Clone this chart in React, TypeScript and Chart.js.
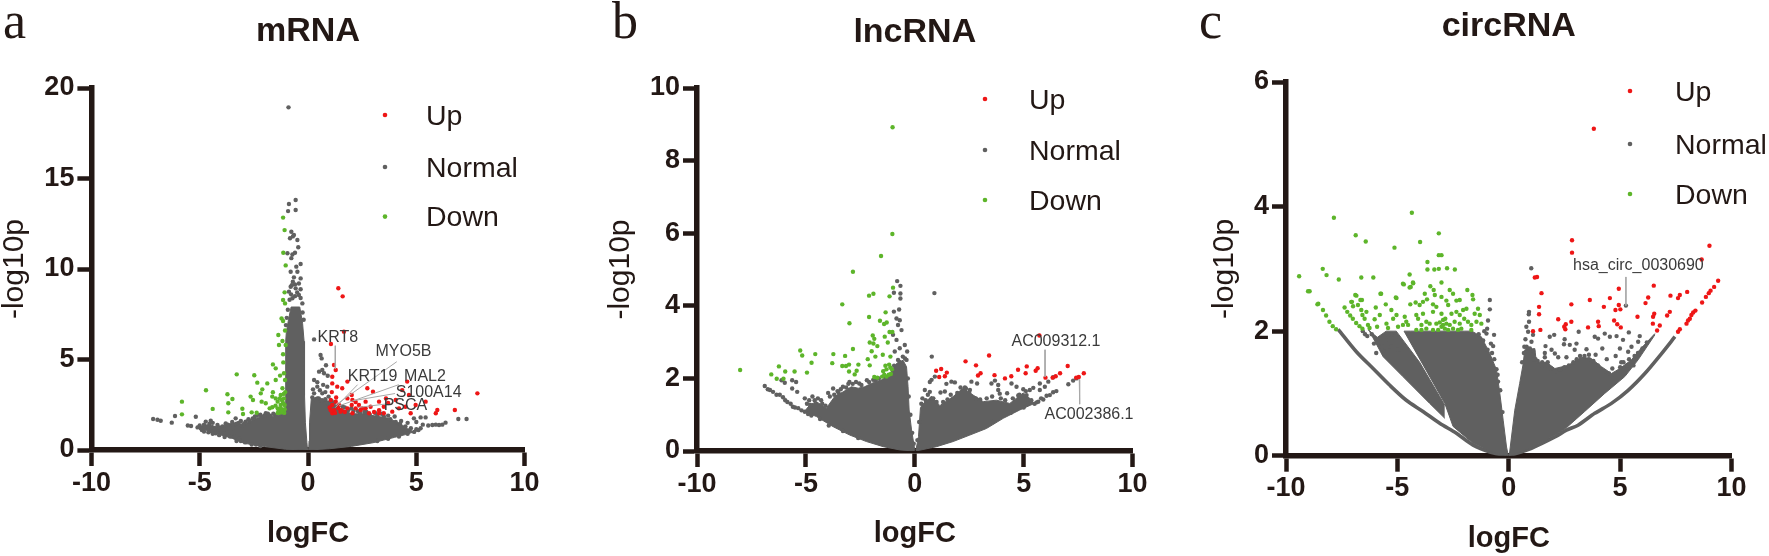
import React, { useEffect, useRef } from "react";
import { Chart } from "chart.js/auto";

type P = [number, number];

const seriesLabels = ["Up", "Normal", "Down"];
const xTicksStep = 5;

// ---------- mRNA ----------
const mrnaUp: P[] = [[1.4,8.94],[1.6,8.49],[1.66,6.54],[1.06,5.86],[1.2,4.7],[1.28,4.42],[1.12,4.05],[1.12,3.68],[1.82,3.78],[1.35,3.5],[1.58,3.41],[2.74,3.41],[3,3.22],[2.02,3.04],[1.05,2.76],[1.28,2.67],[1.12,2.49],[1.43,2.49],[2.02,2.49],[2.2,2.3],[2.43,2.21],[2.66,2.3],[2.89,2.39],[3.28,2.67],[3.6,2.85],[3.5,2.39],[3.28,2.2],[2.66,2.67],[1.12,2.03],[1.5,2.12],[1.82,2.3],[2.05,2.03],[2.82,2.03],[3.28,2.03],[3.5,2.03],[4.05,2.76],[4.35,3.31],[4.58,3.78],[4.66,3.04],[4.97,2.49],[5.43,2.67],[5.97,2.21],[5.9,2.03],[6.78,2.21],[7.82,3.13],[4.2,2.3],[4.5,2.39],[4.74,2.03],[3.89,2.12],[1.82,2.85],[2.05,2.76],[2.2,2.65],[2.35,2.49],[2.5,2.3],[1.2,2.2],[1,2.35],[1.3,2.9],[1.1,3.2],[1.55,2.2],[3.05,2.1],[3.7,2.6],[1.05,2.2],[1.25,2.05],[1.4,2.3],[1.7,2.1]];
const mrnaDown: P[] = [[-1.15,12.84],[-1.08,12.15],[-1.14,10.9],[-1.03,10.2],[-1.08,8.71],[-1.15,8.29],[-1.06,8.1],[-1.22,7.27],[-1.15,7.13],[-1.37,6.35],[-1.06,6.6],[-1.18,6.02],[-1.34,5.8],[-1.03,5.8],[-1.15,5.29],[-1.62,4.73],[-1.49,4.51],[-1.14,4.84],[-3.29,4.18],[-2.48,4.13],[-2.34,3.72],[-1.88,3.68],[-1.49,3.87],[-1.29,4.11],[-1.11,4.24],[-1.06,3.87],[-4.71,3.3],[-3.72,3.08],[-3.49,2.82],[-2.11,3.35],[-2.18,3.13],[-2.65,2.95],[-2.54,2.76],[-1.62,3.19],[-1.18,3.41],[-5.82,2.67],[-5.82,1.97],[-3.68,2.58],[-4.4,2.27],[-3.68,2.08],[-3.03,2.28],[-3,1.99],[-2.6,2.08],[-2.37,2.06],[-2.14,2.67],[-1.95,2.58],[-1.77,2.3],[-1.65,2.36],[-1.65,2.95],[-1.49,2.85],[-1.26,3.04],[-1.11,2.85],[-1.4,2.67],[-1.26,2.49],[-1.4,2.3],[-1.17,2.2],[-1.32,2.06],[-1.08,2.49],[-1.2,2.75],[-1.1,2.05],[-1.25,2.3],[-1.4,2.05],[-1.08,2.25],[-1.5,2.45],[-1.3,2.85],[-1.15,2.6],[-1.35,2.2],[-1.2,2.1],[-1.05,3.2],[-1.12,3.1]];
const mrnaNormal: P[] = [[-0.9,18.93],[-0.57,13.81],[-0.88,13.59],[-0.92,13.2],[-0.57,13.26],[-0.77,12.06],[-0.65,11.88],[-0.83,11.7],[-0.7,11.8],[-0.49,11.6],[-0.45,11.2],[-0.6,10.9],[-0.72,10.8],[-0.77,10.6],[-0.95,10.87],[-0.34,10.28],[-0.54,10.13],[-0.8,9.85],[-0.49,9.85],[-0.65,9.54],[-0.34,9.48],[-0.42,9.2],[-0.8,9.02],[-0.57,8.93],[-0.34,8.88],[-0.88,8.75],[-0.42,8.56],[-0.72,8.38],[-0.34,8.4],[-0.85,8.3],[-0.26,8.1],[-0.6,8.5],[-0.78,8.6],[-0.5,8.7],[-0.7,9.3],[-0.6,9.15],[-0.75,9.1],[-0.93,7.75],[-0.98,7.3],[-1.02,6.9],[-0.25,7.6],[-0.2,7.2],[0.28,6.11],[0.58,5.25],[0.63,5.06],[0.83,4.68],[0.66,4.42],[0.51,4.33],[0.74,4.24],[0.91,4.1],[0.28,3.87],[0.43,3.75],[0.23,3.35],[0.43,3.5],[0.89,3.5],[0.66,3.13],[0.28,3.13],[0.43,2.85],[0.54,2.76],[0.8,3.2],[0.95,2.95],[0.7,3.6],[0.55,3.3],[-7.15,1.71],[-6.95,1.67],[-6.8,1.62],[-6.14,1.88],[-6.29,1.51],[-5.55,1.35],[-5.4,1.33],[-5.18,1.84],[-5.1,1.25],[-4.95,1.2],[-4.8,1.4],[-4.72,1.57],[-4.55,1.45],[-4.49,1.62],[-4.3,1.2],[-4.18,1.38],[-4.05,1.1],[-3.95,1.3],[-3.8,1.47],[-3.6,1.25],[-3.45,1.2],[-3.34,1.75],[-3.2,1.5],[-3.05,1.35],[-2.88,1.57],[-2.7,1.6],[-2.34,1.93],[-2.15,1.85],[-1.95,2.03],[-1.75,1.9],[-1.49,1.92],[-3.75,0.95],[-3.4,0.72],[-3.6,0.75],[-3.1,0.5],[-4.5,1.05],[-4.26,0.92],[4.89,1.75],[5.2,1.8],[5.43,1.8],[5.74,1.38],[6.05,1.38],[6.35,1.51],[6.94,1.71],[7.32,1.71],[5,1.55],[5.3,1.4],[5.55,1.35],[5.9,1.4],[6.2,1.4],[4.6,1.5],[4.3,1.6],[4,1.85],[3.7,1.9],[3.4,2],[3.1,2.05],[2.7,2.1],[2.3,2.15],[2,2.3],[1.7,2.35],[1.4,2.45],[1.1,2.7],[4.4,1.2],[4.75,1.2],[5,1.15],[5.2,1.2]];
const mrnaEdge: P[] = [[-5,1.35],[-4.9,1.1],[-4.65,1.3],[-4.4,1.5],[-4.1,1.25],[-3.9,1.15],[-3.7,1.4],[-3.5,1.55],[-3.3,1.45],[-3.1,1.6],[-2.95,1.45],[-2.75,1.7],[-2.55,1.75],[-2.45,1.85],[-2.2,1.95],[-2,1.9],[-1.85,2],[-1.6,2],[-1.3,2],[-4.8,1.02],[-4.6,0.98],[-4.4,0.9],[-4.1,0.82],[-3.85,0.72],[-3.3,0.5],[-3.2,0.62],[-2.9,0.42],[-2.6,0.3],[-2.4,0.3],[-2.2,0.22],[3.2,0.5],[3.7,0.62],[4.2,0.75],[4.6,0.9],[4.9,1],[5.1,1.1],[1.2,2.6],[1.35,2.35],[1.6,2.4],[1.85,2.2],[2.1,2.15],[2.4,2.05],[2.6,2.1],[2.85,1.95],[3.2,1.9],[3.5,1.85],[3.8,1.7],[4.05,1.55],[4.25,1.45],[4.5,1.3],[4.7,1.1],[0.2,2.9],[0.35,2.8],[0.5,2.85],[0.65,2.75],[0.8,2.8],[0.9,2.6]];
const mrnaLeftTop: P[] = [[-5.1,1.25],[-4.8,1.35],[-4.5,1.4],[-4.2,1.25],[-3.8,1.4],[-3.4,1.5],[-3,1.4],[-2.6,1.65],[-2.3,1.8],[-1.9,1.9],[-1.5,1.85],[-1.05,2],[-1.03,3],[-1.03,6],[-1,6.5],[-0.9,7.2],[-0.78,7.9],[-0.38,7.9],[-0.25,7],[-0.18,6],[-0.16,3],[-0.12,1.5],[-0.05,0.4],[-0.02,0]];
const mrnaLeftBottom: P[] = [[-5.1,1.25],[-4.26,0.92],[-3.49,0.64],[-2.95,0.37],[-1.95,0.18],[-1.03,0.04],[-0.02,0]];
const mrnaRightTop: P[] = [[0.03,0],[0.05,0.5],[0.07,1.5],[0.15,2.8],[1,2.7],[1.5,2.3],[2,2],[2.66,2],[3,1.9],[3.74,1.75],[4.35,1.38],[4.8,1],[5.14,1.1]];
const mrnaRightBottom: P[] = [[0.03,0],[1,0.07],[2,0.2],[3,0.4],[3.5,0.55],[4,0.7],[4.5,0.85],[5.14,1.1]];
const mrnaLeaders: P[][] = [[[1.26,5.76],[1.26,4.49]],[[4.1,4.88],[1.34,2.54]],[[2.29,3.61],[1.26,2.34]],[[4.19,3.61],[1.43,2.44]],[[4.02,3.12],[2.12,2.73]],[[3.59,2.54],[2.3,2.35]]];
const mrnaNotes: [string, number, number][] = [["KRT8",1.38,6.2],["MYO5B",4.41,5.42],["KRT19",2.98,4.06],["MAL2",5.4,4.06],["S100A14",5.57,3.16],["PSCA",4.5,2.44]];

// ---------- lncRNA ----------
const lncUp: P[] = [[5.72,3.18],[3.41,2.63],[2.33,2.47],[2.81,2.36],[7.02,2.34],[5.14,2.33],[5.64,2.28],[5.55,2.21],[4.74,2.24],[1.21,2.26],[0.98,2.21],[1.47,2.16],[1.38,2.06],[1.12,2.04],[3.02,2.14],[2.9,2.08],[3.66,2.09],[4.43,2.06],[4.14,2],[5.09,2.14],[6,2.02],[6.67,2.14],[6.47,2.06],[6.33,2.02],[7.76,2.14],[7.53,2.04],[7.41,2.02]];
const lncDown: P[] = [[-1.02,8.92],[-1.03,5.98],[-1.55,5.37],[-2.84,4.94],[-1,4.5],[-1.9,4.33],[-2.1,4.28],[-1.16,4.26],[-3.33,4.04],[-1.34,3.82],[-2.1,3.69],[-1.6,3.59],[-1.29,3.54],[-1.41,3.5],[-3,3.52],[-1.16,3.28],[-1.03,3.28],[-1.93,3.18],[-1.86,3.09],[-1.38,3.15],[-2.07,2.99],[-1.9,2.96],[-1.24,2.99],[-1.72,2.89],[-2.84,2.81],[-1.98,2.75],[-1.47,2.65],[-5.26,2.77],[-5.17,2.63],[-4.57,2.67],[-3.74,2.67],[-3.2,2.62],[-1.81,2.6],[-2.16,2.53],[-4.74,2.43],[-3.79,2.42],[-3.02,2.38],[-2.59,2.38],[-3.33,2.34],[-3.16,2.34],[-2.07,2.36],[-1.12,2.6],[-6.24,2.33],[-8.02,2.23],[-5.95,2.19],[-5.52,2.19],[-4.95,2.16],[-3.02,2.19],[-2.67,2.21],[-6.59,2.11],[-6.34,1.99],[-6.03,1.99],[-2.76,2.11],[-1.86,2.04],[-1.72,2.02],[-1.5,2.05],[-1.4,2.1],[-1.3,2.05],[-1.2,2.1],[-1.1,2.12],[-1.45,2.2],[-1.3,2.25],[-1.12,2.3],[-1.05,2.25],[-1.35,2.35],[-1.18,2.38]];
const lncNormal: P[] = [[0.9,4.35],[0.78,2.6],[-0.81,4.68],[-0.66,4.55],[-0.96,4.36],[-0.66,4.34],[-0.66,4.2],[-0.96,3.84],[-0.72,3.9],[-0.84,3.65],[-0.69,3.6],[-0.77,3.47],[-0.61,3.33],[-1,3.2],[-0.84,3.06],[-0.46,2.92],[-0.69,2.83],[-0.35,2.74],[-0.92,2.74],[-0.38,2.51],[-0.77,2.51],[-6.89,1.79],[-6.75,1.7],[-6.51,1.63],[-6.35,1.55],[-6.05,1.48],[-5.85,1.35],[-5.6,1.22],[-5.2,1.12],[-5.05,1.08],[-4.8,1.27],[-4.7,1.5],[-5.05,1.45],[-5.4,1.63],[-5.63,1.72],[-5.45,1.9],[-5.63,1.95],[-5.97,1.88],[-6.12,1.95],[-3.98,1.6],[-3.75,1.72],[-3.3,1.77],[-3,1.9],[-2.2,1.95],[-2.55,1.86],[-3.5,1.6],[-4.3,1.4],[-1.91,1.96],[0.92,2.05],[0.77,1.96],[0.69,1.9],[0.46,1.68],[0.69,1.63],[0.77,1.45],[1.18,1.61],[1.38,1.64],[1.45,1.85],[1.68,1.91],[1.84,1.89],[2.6,1.91],[2.86,1.86],[2.3,1.75],[2.53,1.68],[3.52,1.86],[3.68,1.94],[3.83,1.82],[3.83,1.68],[3.9,1.58],[4.24,1.59],[4.44,1.86],[4.67,1.77],[4.98,1.7],[5.13,1.54],[5.44,1.74],[5.74,1.86],[5.74,1.68],[5.97,1.77],[6.13,1.91],[6.35,2.03],[7.05,1.84],[7.27,1.94],[7.43,2],[5.67,1.36],[5.9,1.42],[6.2,1.54],[6.5,1.65],[5.5,1.3],[5.28,1.68],[4.75,1.53]];
const lncEdge: P[] = [[-6.65,1.68],[-6.2,1.55],[-5.95,1.4],[-5.7,1.3],[-5.5,1.2],[-5.35,1.18],[-4.9,1.02],[-4.75,0.98],[-4.35,0.88],[-4.95,1.3],[-4.85,1.4],[-4.6,1.4],[-4.45,1.45],[-4.25,1.3],[-4.1,1.25],[-3.9,1.5],[-3.7,1.55],[-3.55,1.65],[-3.4,1.7],[-3.15,1.75],[-3.05,1.85],[-2.85,1.85],[-2.7,1.9],[-2.45,1.82],[-2.1,1.9],[-1.8,1.95],[-1.65,2],[-1.35,2.05],[-1,2.2],[-0.95,2.35],[-0.7,2.45],[-0.55,2.6],[-0.45,2.55],[-0.32,2],[-0.28,1.5],[-0.2,1],[-0.12,0.5],[-0.05,0.2],[-3.95,0.7],[-3.3,0.55],[-2.6,0.36],[0.3,1.3],[0.35,1.45],[0.5,1.4],[0.6,1.55],[0.85,1.45],[1,1.35],[1.3,1.35],[1.5,1.42],[1.65,1.55],[1.95,1.6],[2.1,1.75],[2.35,1.72],[2.5,1.6],[2.8,1.45],[3,1.42],[3.3,1.45],[3.55,1.5],[3.95,1.45],[4.15,1.4],[4.5,1.45],[4.8,1.55],[5.1,1.65],[5.35,1.4],[5.2,1.3],[0.2,0.8],[0.12,0.3],[3.6,0.8],[4.4,1.05],[5,1.2],[5.6,1.34],[5.8,1.45],[6.05,1.52],[6.35,1.62]];
const lncLeftTop: P[] = [[-5.05,1.1],[-4.82,1.27],[-4.52,1.36],[-4.06,1.18],[-3.68,1.5],[-3.29,1.63],[-2.91,1.77],[-2.6,1.73],[-2.3,1.77],[-2,1.86],[-1.53,1.96],[-1.15,2.09],[-0.84,2.41],[-0.54,2.5],[-0.38,2.32],[-0.31,1.77],[-0.26,1.13],[-0.15,0.58],[0,0.03]];
const lncLeftBottom: P[] = [[-5.05,1.08],[-4.52,0.95],[-3.75,0.67],[-2.99,0.44],[-2.22,0.26],[-1.45,0.12],[-0.69,0.03],[0,0]];
const lncRightTop: P[] = [[0.05,0.02],[0.17,0.4],[0.26,1.19],[0.38,1.3],[0.77,1.5],[1.15,1.25],[1.76,1.5],[2.22,1.73],[2.68,1.54],[3.14,1.36],[3.75,1.4],[4.36,1.31],[4.98,1.6],[5.28,1.45],[5.45,1.3]];
const lncRightBottom: P[] = [[0.05,0],[1,0.12],[1.76,0.26],[2.53,0.44],[3.29,0.62],[4.06,0.9],[4.82,1.13],[5.45,1.3]];
const lncLeaders: P[][] = [[[5.98,2.79],[5.98,2.04]],[[7.55,1.97],[7.57,1.29]]];
const lncNotes: [string, number, number][] = [["AC009312.1",6.48,3.01],["AC002386.1",8,0.99]];

// ---------- circRNA ----------
const circUp: P[] = [[3.82,5.25],[2.84,3.46],[2.84,3.26],[9.01,3.37],[8.66,3.15],[1.17,2.86],[1.27,2.87],[1.47,2.61],[1.36,2.39],[1.36,2.27],[1.09,2],[1.42,2.02],[2.22,2.19],[2.81,2.43],[3.64,2.5],[2.81,2.15],[2.56,2.11],[2.49,2.07],[2.54,2.03],[3.56,2.06],[4.01,2.15],[4.04,2.08],[4.27,2.39],[4.54,2.53],[4.94,2.68],[4.79,2.34],[4.94,2.42],[5.01,2.35],[4.73,2.17],[4.87,2.11],[5.03,2.06],[5.78,2.23],[6.14,2.45],[6.26,2.54],[6.51,2.73],[6.53,2.28],[6.48,2.23],[6.47,2.12],[6.78,2.09],[6.66,2.01],[7.26,2.57],[8.01,2.63],[7.68,2.58],[7.6,2.53],[7.23,2.31],[7.11,2.25],[7.68,2.03],[7.6,1.99],[7.98,2.12],[8.05,2.17],[8.13,2.2],[8.2,2.26],[8.28,2.3],[8.38,2.33],[8.68,2.46],[8.85,2.55],[8.98,2.61],[9.06,2.65],[9.22,2.71],[9.4,2.81]];
const circDown: P[] = [[-4.35,3.9],[-7.85,3.82],[-6.87,3.54],[-3.14,3.57],[-6.42,3.44],[-3.98,3.43],[-5.13,3.34],[-3.14,3.22],[-3.02,3.22],[-3.65,3.11],[-8.35,3],[-3.65,2.99],[-3.34,2.99],[-3.14,3],[-2.77,3.01],[-2.42,2.99],[-4.45,2.91],[-8.18,2.9],[-9.41,2.88],[-7.63,2.83],[-6.62,2.86],[-6.08,2.86],[-4.29,2.77],[-4.71,2.75],[-4.4,2.71],[-8.94,2.64],[-5.73,2.6],[-6.84,2.57],[-5.04,2.53],[-7.04,2.47],[-6.59,2.5],[-8.55,2.44],[-4.75,2.76],[-4.3,2.78],[-4.45,2.7],[-3.02,2.78],[-3.52,2.72],[-3.37,2.66],[-2.65,2.66],[-2.5,2.6],[-1.86,2.66],[-1.63,2.58],[-3.77,2.6],[-3.67,2.51],[-3.32,2.58],[-3.02,2.55],[-2.8,2.49],[-2.2,2.5],[-2.35,2.49],[-1.6,2.51],[-4.42,2.43],[-4.18,2.46],[-4,2.42],[-3.85,2.47],[-3.4,2.43],[-3.25,2.39],[-2.72,2.42],[-1.9,2.36],[-1.38,2.36],[-2.05,2.34],[-2.35,2.31],[-2.57,2.28],[-3.02,2.28],[-3.4,2.31],[-3.85,2.28],[-4.15,2.26],[-2.2,2.26],[-1.53,2.28],[-1.3,2.26],[-4.67,2.23],[-4.6,2.15],[-4.75,2.1],[-4.52,2.1],[-4.07,2.2],[-3.7,2.15],[-3.92,2.1],[-3.55,2.12],[-3.25,2.12],[-2.95,2.18],[-2.8,2.12],[-2.65,2.1],[-2.43,2.15],[-2.2,2.12],[-2,2.2],[-1.83,2.15],[-1.68,2.1],[-1.45,2.15],[-1.23,2.12],[-3.02,2.07],[-3.17,2.02],[-2.87,2.04],[-2.72,2.02],[-2.5,2.04],[-3.7,2.04],[-3.92,2.02],[-4.15,2.02],[-1.68,2.02],[-2.13,2.04],[-2.28,2.02],[-3.4,2.02],[-2.95,2.1],[-3.1,2.14],[-2.85,2.2],[-7.07,2.47],[-6.89,2.58],[-6.66,2.5],[-6.99,2.4],[-6.77,2.42],[-6.62,2.34],[-6.39,2.31],[-6.57,2.26],[-6.47,2.2],[-5.97,2.38],[-5.79,2.26],[-6.02,2.19],[-5.52,2.43],[-5.07,2.54],[-5.76,2.6],[-5.27,2.34],[-5.04,2.26],[-5.19,2.2],[-5.91,2.07],[-6.32,2.1],[-6.25,2.05],[-5.49,2.12],[-5.42,2.05],[-4.97,2.07],[-9.01,2.64],[-8.59,2.43],[-8.34,2.34],[-8.2,2.25],[-8.05,2.15],[-7.9,2.08],[-7.75,2.03],[-7.37,2.38],[-7.25,2.31],[-7.12,2.25],[-7,2.2],[-6.85,2.13],[-6.7,2.08],[-6.57,2.04]];
const circNormal: P[] = [[1.01,3.01],[0.91,2.31],[0.9,2.27],[0.91,2.15],[0.79,2.07],[0.87,1.99],[1.09,1.94],[0.75,1.87],[1.02,1.83],[0.7,1.75],[0.85,1.72],[1.65,1.76],[1.84,1.91],[2.04,1.94],[2.51,1.87],[2.48,1.79],[2.74,1.78],[3.04,1.8],[3.14,1.99],[2.96,1.7],[3.49,1.71],[3.86,1.91],[4.01,1.88],[4.31,1.96],[4.54,1.91],[4.84,1.92],[5.39,1.98],[5.13,1.86],[4.99,1.72],[5.88,1.92],[5.81,1.83],[5.51,1.75],[5.36,1.67],[5.26,2.41],[1.92,1.7],[2.07,1.64],[2.22,1.58],[2.59,1.58],[1.62,1.58],[1.62,1.65],[1.2,1.55],[1.5,1.5],[3.6,1.62],[3.9,1.62],[4.2,1.72],[4.4,1.55],[4.8,1.6],[5.05,1.5],[5.3,1.45],[5.6,1.45],[4.65,1.4],[-0.85,2.5],[-0.85,2.35],[-0.93,2.17],[-0.97,2.04],[-0.66,1.94],[-0.7,1.76],[-1,1.96],[-0.55,1.39],[-0.48,1.19],[-0.8,1.8],[-1.1,2],[-6.55,2],[-6.45,1.95],[-5.49,1.86],[-5.3,1.75],[-5.1,1.9],[-5.85,1.82],[-5.6,1.68],[-6.35,1.92]];
const circEdge: P[] = [[0.6,1.5],[0.68,1.65],[0.8,1.75],[0.95,1.72],[1.1,1.68],[1.15,1.55],[1.3,1.52],[1.45,1.45],[1.6,1.45],[1.75,1.5],[1.9,1.4],[2.1,1.35],[2.3,1.38],[2.5,1.42],[2.7,1.45],[2.9,1.5],[3.05,1.55],[3.2,1.6],[3.4,1.6],[3.6,1.55],[3.8,1.52],[4,1.45],[4.3,1.35],[4.5,1.32],[4.75,1.3],[5,1.42],[5.15,1.5],[5.4,1.55],[5.65,1.6],[5.8,1.65],[6,1.72],[6.2,1.82],[-0.75,1.65],[-0.65,1.55],[-0.5,1.3],[-0.38,1.05],[-0.28,0.7],[-0.95,1.7],[-1.15,1.85],[-1.35,1.95],[-5.25,1.95],[-5.4,1.95],[-5.7,1.75],[-5.95,1.65],[-6.15,1.95],[-6.05,1.8],[-4.95,1.7]];
const circLeftTop: P[] = [[-4.7,2],[-4.4,2],[-4,2],[-3,2],[-2,2],[-1.65,2],[-1.23,1.91],[-0.85,1.64],[-0.55,1.38],[-0.4,1],[-0.25,0.57],[-0.1,0.14],[-0.02,0]];
const circLeftBottom: P[] = [[-4.7,2],[-2.87,0.84],[-2.5,0.47],[-1.6,0.2],[-0.85,0.07],[-0.02,0]];
const circWedgeTop: P[] = [[-6.3,2.02],[-5.9,1.9],[-5.5,2],[-5.05,2],[-4,1.5],[-2.87,0.81]];
const circWedgeBottom: P[] = [[-6.3,2.02],[-6.24,1.99],[-5.64,1.59],[-4.75,1.27],[-3.55,0.84],[-2.87,0.6]];
const circRightTop: P[] = [[0.02,0],[0.27,0.73],[0.49,1.16],[0.64,1.46],[0.72,1.7],[1.17,1.72],[1.24,1.5],[1.69,1.5],[2.07,1.4],[2.66,1.45],[3.26,1.58],[3.71,1.56],[4.16,1.43],[4.61,1.32],[4.99,1.4],[5.51,1.54],[5.88,1.7],[6.56,1.96]];
const circRightBottom: P[] = [[0.02,0],[1.02,0.13],[2.07,0.33],[2.59,0.45],[3.41,0.71],[4.31,1],[5.21,1.27],[5.81,1.54],[6.56,1.94]];
const circOuterLeft: P[] = [[-7.66,2.03],[-6.84,1.67],[-6.09,1.4],[-5.34,1.13],[-4.6,0.89],[-3.85,0.71],[-3.1,0.52],[-2.35,0.36],[-1.6,0.17],[-0.85,0.06],[-0.1,0]];
const circOuterRight: P[] = [[0,0],[1.02,0.12],[2.07,0.3],[2.59,0.41],[3.11,0.49],[3.86,0.68],[4.61,0.84],[5.36,1.05],[6.11,1.32],[6.86,1.64],[7.46,1.91]];
const circLeaders: P[][] = [[[5.26,2.87],[5.26,2.41]]];
const circNotes: [string, number, number][] = [["hsa_circ_0030690",5.82,3.06]];

const RED = "#EE1616";
const GREY = "#606060";
const GREEN = "#5DB52A";
const INK = "#231815";
const SANS = "'Liberation Sans', Arial, sans-serif";
const pts = (a: P[]) => a.map(([x, y]) => ({ x, y }));

interface Panel {
  letter: string; letterX: number; title: string; left: number; W: number;
  area: { l: number; r: number; t: number; b: number };
  titleY: number; yMax: number; yStep: number; yTitlePad: number; xTitlePad: number;
  legend: { mx: number; tx: number; ys: number[] };
  up: P[]; normal: P[]; down: P[];
  masses: [P[], P[]][]; bands: P[][]; leaders: P[][]; notes: [string, number, number][];
}

const panels: Panel[] = [
  { letter: "a", letterX: 3, title: "mRNA", left: 0, W: 590, area: { l: 91.4, r: 524.6, t: 88, b: 450 }, titleY: 31.6, yMax: 20, yStep: 5, yTitlePad: 0, xTitlePad: 8,
    legend: { mx: 385, tx: 426, ys: [117, 169, 218.6] }, up: mrnaUp, normal: [...mrnaNormal, ...mrnaEdge], down: mrnaDown,
    masses: [[mrnaLeftTop, mrnaLeftBottom], [mrnaRightTop, mrnaRightBottom]], bands: [], leaders: mrnaLeaders, notes: mrnaNotes },
  { letter: "b", letterX: 22, title: "lncRNA", left: 590, W: 589, area: { l: 107, r: 542.6, t: 88, b: 451 }, titleY: 32.7, yMax: 10, yStep: 2, yTitlePad: 16, xTitlePad: 8,
    legend: { mx: 395, tx: 439, ys: [101, 152, 202] }, up: lncUp, normal: [...lncNormal, ...lncEdge], down: lncDown,
    masses: [[lncLeftTop, lncLeftBottom], [lncRightTop, lncRightBottom]], bands: [], leaders: lncLeaders, notes: lncNotes },
  { letter: "c", letterX: 20, title: "circRNA", left: 1179, W: 590, area: { l: 107, r: 552.5, t: 82, b: 455.7 }, titleY: 27, yMax: 6, yStep: 2, yTitlePad: 31, xTitlePad: 2.5,
    legend: { mx: 451, tx: 496, ys: [93, 146, 196] }, up: circUp, normal: [...circNormal, ...circEdge], down: circDown,
    masses: [[circLeftTop, circLeftBottom], [circWedgeTop, circWedgeBottom], [circRightTop, circRightBottom]], bands: [circOuterLeft, circOuterRight], leaders: circLeaders, notes: circNotes },
];

function makeChart(canvas: HTMLCanvasElement, p: Panel) {
  const dot = (label: string, data: P[], color: string, order: number) => ({
    type: "scatter" as const, label, data: pts(data), backgroundColor: color, borderColor: color,
    pointRadius: 2.2, pointBorderWidth: 0, order, clip: false,
  });
  const datasets: any[] = [
    dot(seriesLabels[0], p.up, RED, 1),
    dot(seriesLabels[1], p.normal, GREY, 3),
    dot(seriesLabels[2], p.down, GREEN, 2),
  ];
  p.masses.forEach(([top, bottom]) => {
    const line = { type: "scatter", showLine: true, pointRadius: 0, borderColor: GREY, borderWidth: 1, backgroundColor: GREY, tension: 0, order: 4 };
    datasets.push({ ...line, label: "mass", data: pts(top), fill: "+1" });
    datasets.push({ ...line, label: "mass", data: pts(bottom), fill: false });
  });
  p.bands.forEach((b) => datasets.push({ type: "scatter", label: "band", showLine: true, pointRadius: 0, borderColor: GREY, borderWidth: 3.6, tension: 0.3, order: 4, data: pts(b), fill: false }));
  p.leaders.forEach((l) => datasets.push({ type: "scatter", label: "leader", showLine: true, pointRadius: 0, borderColor: "#A8A8A8", borderWidth: 1, order: 0, data: pts(l), fill: false }));

  const textPlugin = {
    id: "panelText",
    afterDraw(chart: any) {
      const { ctx, scales } = chart;
      ctx.save();
      ctx.textBaseline = "alphabetic";
      ctx.textAlign = "left";
      ctx.fillStyle = INK;
      ctx.font = "52px 'Liberation Serif', serif";
      ctx.fillText(p.letter, p.letterX, 38);
      [RED, GREY, GREEN].forEach((c, i) => {
        ctx.beginPath();
        ctx.fillStyle = c;
        ctx.arc(p.legend.mx, p.legend.ys[i] - 2, 2.3, 0, Math.PI * 2);
        ctx.fill();
        ctx.fillStyle = INK;
        ctx.font = `28.5px ${SANS}`;
        ctx.textBaseline = "middle";
        ctx.fillText(seriesLabels[i], p.legend.tx, p.legend.ys[i]);
      });
      ctx.font = `16px ${SANS}`;
      ctx.fillStyle = "#3A3A3A";
      ctx.textAlign = "center";
      p.notes.forEach(([t, x, y]) => ctx.fillText(t, scales.x.getPixelForValue(x), scales.y.getPixelForValue(y)));
      ctx.restore();
    },
  };

  const H = 556;
  return new Chart(canvas, {
    type: "scatter",
    data: { datasets },
    plugins: [textPlugin],
    options: {
      animation: false, responsive: false, devicePixelRatio: 1,
      layout: { padding: { top: 0, left: 0, bottom: 0, right: p.W - p.area.r } },
      plugins: {
        legend: { display: false }, tooltip: { enabled: false },
        title: {
          display: true, text: p.title, color: INK, fullSize: false,
          font: { family: SANS, size: 34, weight: "bold", lineHeight: 1 },
          padding: { top: p.titleY - 17, bottom: p.area.t - p.titleY - 17 },
        },
      },
      scales: {
        x: {
          type: "linear", min: -10, max: 10,
          afterFit: (s: any) => { s.height = H - p.area.b; },
          border: { color: INK, width: 5.5 },
          grid: { drawOnChartArea: false, drawTicks: true, tickLength: 16, tickWidth: 4.5, tickColor: INK },
          ticks: { stepSize: xTicksStep, color: INK, padding: 1, autoSkip: false, maxRotation: 0, font: { family: SANS, size: 27, weight: "bold" } },
          title: { display: true, text: "logFC", color: INK, padding: { top: 0, bottom: p.xTitlePad }, font: { family: SANS, size: 29, weight: "bold", lineHeight: 1 } },
        },
        y: {
          type: "linear", min: 0, max: p.yMax,
          afterFit: (s: any) => { s.width = p.area.l; },
          border: { color: INK, width: 5.5 },
          grid: { drawOnChartArea: false, drawTicks: true, tickLength: 14, tickWidth: 4.5, tickColor: INK },
          ticks: { stepSize: p.yStep, color: INK, padding: 3, autoSkip: false, font: { family: SANS, size: 27, weight: "bold" } },
          title: { display: true, text: "-log10p", color: INK, padding: { top: p.yTitlePad, bottom: 0 }, font: { family: SANS, size: 30, weight: "normal", lineHeight: 1 } },
        },
      },
    } as any,
  });
}

function ChartPanel({ panel }: { panel: Panel }) {
  const ref = useRef<HTMLCanvasElement | null>(null);
  useEffect(() => {
    const c = makeChart(ref.current!, panel);
    return () => c.destroy();
  }, [panel]);
  return <canvas ref={ref} width={panel.W} height={556} style={{ position: "absolute", left: panel.left, top: 0, width: panel.W, height: 556, display: "block" }} />;
}

export default function App() {
  return (
    <div style={{ position: "fixed", left: 0, top: 0, width: 1769, height: 556, background: "#fff", overflow: "hidden" }}>
      {panels.map((p) => <ChartPanel key={p.letter} panel={p} />)}
    </div>
  );
}
